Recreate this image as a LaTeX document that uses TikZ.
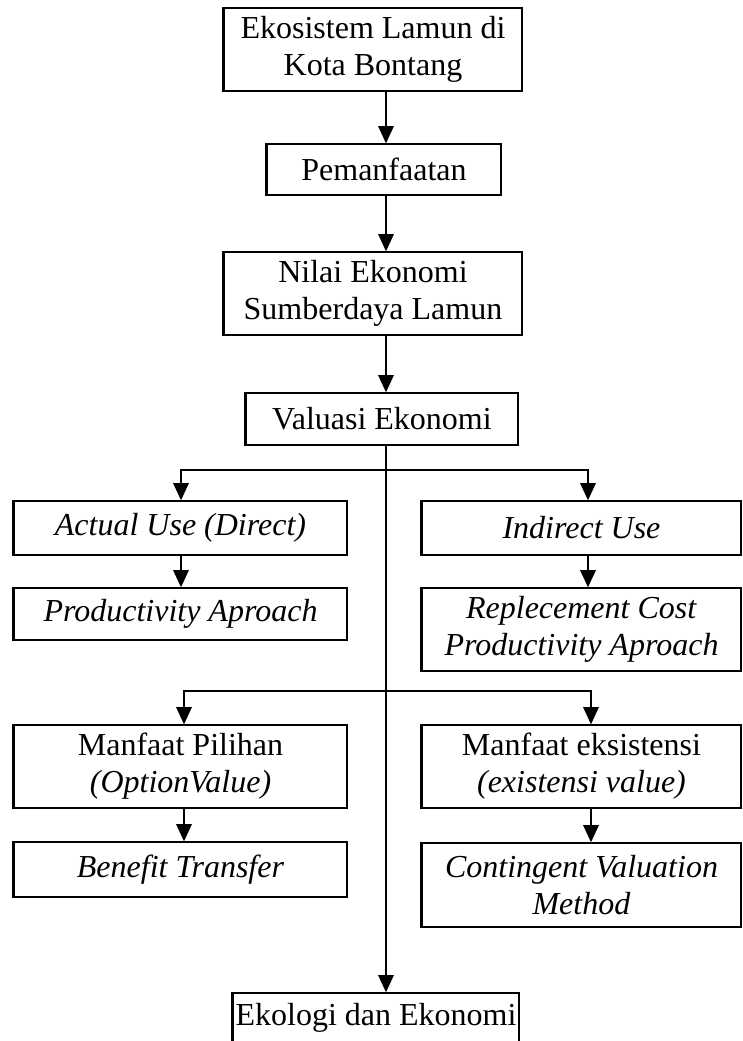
\documentclass[tikz,border=0pt]{standalone}
\usepackage{fontspec}
\setmainfont{Liberation Serif}
\usetikzlibrary{arrows.meta}

\tikzset{
  box/.style={draw,line width=0.5pt,align=center,inner sep=0pt,
    font=\fontsize{12}{13.8}\selectfont},
  conn/.style={line width=0.7pt,-{Triangle[width=5.8pt,length=6.5pt]}}
}

\begin{document}
\begin{tikzpicture}[x=0.375pt,y=-0.375pt]
\useasboundingbox (0,0) rectangle (743,1041);
\clip (0,0) rectangle (743,1041);
% upper chain
\node[box,minimum width=111.75pt,minimum height=31.1pt] (eko) at (373,49.5) {Ekosistem Lamun di\\Kota Bontang};
\node[box,minimum width=87.75pt,minimum height=19.1pt] (pem) at (384,169.5) {Pemanfaatan};
\node[box,minimum width=111.75pt,minimum height=31.1pt] (nilai) at (373,293.5) {Nilai Ekonomi\\Sumberdaya Lamun};
\node[box,minimum width=102pt,minimum height=19.5pt] (val) at (382,419) {Valuasi Ekonomi};
% use values
\node[box,minimum width=124.9pt,minimum height=20.25pt] (actual) at (180.5,528) {\textit{Actual Use (Direct)}};
\node[box,minimum width=124.9pt,minimum height=19.5pt] (prod) at (180.5,614) {\textit{Productivity Aproach}};
\node[box,minimum width=119.6pt,minimum height=20.25pt] (indirect) at (581.5,528) {\textit{Indirect Use}};
\node[box,minimum width=119.6pt,minimum height=31.1pt] (repl) at (581.5,629.5) {\textit{Replecement Cost}\\\textit{Productivity Aproach}};
% non-use values
\node[box,minimum width=124.9pt,minimum height=31.1pt] (pilihan) at (180.5,766.5) {Manfaat Pilihan\\\textit{(OptionValue)}};
\node[box,minimum width=124.9pt,minimum height=20.6pt] (benefit) at (180.5,869.5) {\textit{Benefit Transfer}};
\node[box,minimum width=119.6pt,minimum height=31.1pt] (eksis) at (581.5,766.5) {Manfaat eksistensi\\\textit{(existensi value)}};
\node[box,minimum width=119.6pt,minimum height=31.5pt] (conting) at (581.5,885) {\textit{Contingent Valuation}\\\textit{Method}};
% bottom
\node[box,minimum width=107.25pt,minimum height=18.75pt] (ekol) at (376,1018) {Ekologi dan Ekonomi};
% heavier left edges
\foreach \n in {eko,pem,nilai,val,actual,prod,indirect,repl,pilihan,benefit,eksis,conting,ekol}
  \draw[line width=1.2pt] (\n.north west) -- (\n.south west);
% columns and branch points
\coordinate (sp) at (386,0);
\coordinate (lc) at (181,0);
\coordinate (rc) at (588,0);
\coordinate (lcb) at (184,0);
\coordinate (rcb) at (591,0);
\coordinate (br1) at (386,470);
\coordinate (br2) at (386,691);
% connectors
\draw[conn] (eko.south -| sp) -- (pem.north -| sp);
\draw[conn] (pem.south -| sp) -- (nilai.north -| sp);
\draw[conn] (nilai.south -| sp) -- (val.north -| sp);
\draw[conn] (val.south -| sp) -- (ekol.north -| sp);
\draw[conn] (br1) -| (actual.north -| lc);
\draw[conn] (br1) -| (indirect.north -| rc);
\draw[conn] (actual.south -| lc) -- (prod.north -| lc);
\draw[conn] (indirect.south -| rc) -- (repl.north -| rc);
\draw[conn] (br2) -| (pilihan.north -| lcb);
\draw[conn] (br2) -| (eksis.north -| rcb);
\draw[conn] (pilihan.south -| lcb) -- (benefit.north -| lcb);
\draw[conn] (eksis.south -| rcb) -- (conting.north -| rcb);
\end{tikzpicture}
\end{document}
